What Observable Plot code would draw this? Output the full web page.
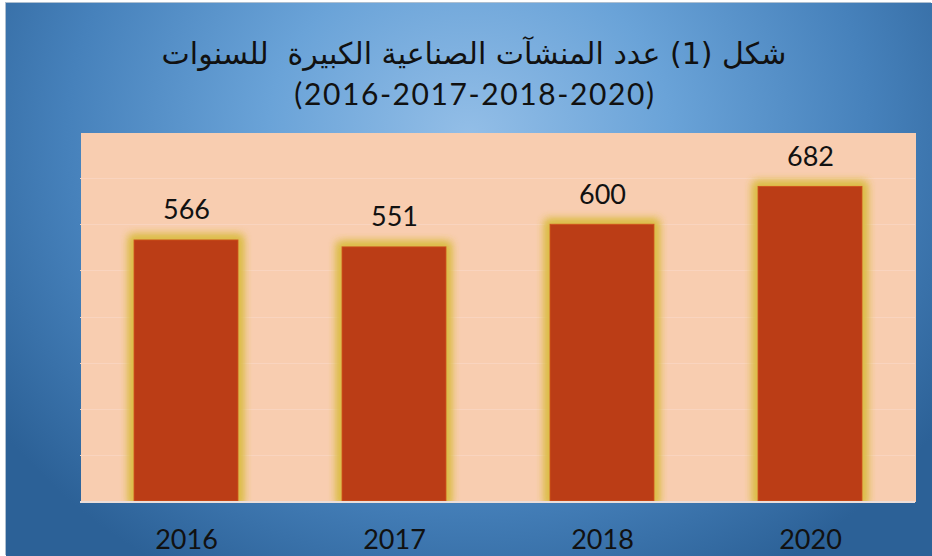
<!DOCTYPE html>
<html><head><meta charset="utf-8">
<script src="https://cdn.jsdelivr.net/npm/d3@7"></script>
<script src="https://cdn.jsdelivr.net/npm/@observablehq/plot@0.6"></script>
<style>
html,body{margin:0;padding:0;background:#fff;width:932px;height:556px;overflow:hidden;}
#fig{position:absolute;left:6px;top:3px;width:926px;height:553px;
 background: radial-gradient(ellipse 62% 92% at 50% 24%, #93bee7 0%, #6aa3d8 35%, #4681bb 70%, #2c6197 100%);
 box-shadow:-1px -1px 0 0 #aebfd0; overflow:hidden;}
#title{position:relative;height:117px;color:#111;text-align:center;}
#t1{position:absolute;left:10px;right:0;top:31px;font-family:"DejaVu Sans",sans-serif;font-size:30px;line-height:40px;direction:rtl;white-space:pre;}
#t2{position:absolute;left:12px;right:0;top:70px;font-family:Lato,"DejaVu Sans",sans-serif;font-size:30px;line-height:40px;letter-spacing:1.6px;white-space:pre;}
#chart svg{display:block;}
</style></head>
<body>
<div id="fig">
  <div id="title"><div id="t1"></div><div id="t2"></div></div>
  <div id="chart"></div>
</div>
<script>
const titleLine1 = "شكل (1) عدد المنشآت الصناعية الكبيرة  للسنوات";
const titleLine2 = "(2016-2017-2018-2020)";
const years = ["2016", "2017", "2018", "2020"];
const counts = [566, 551, 600, 682];
const gridTicks = [100, 200, 300, 400, 500, 600, 700];

document.getElementById("t1").textContent = titleLine1;
document.getElementById("t2").textContent = titleLine2;

const data = years.map((y, i) => ({year: y, value: counts[i]}));

const svg = Plot.plot({
  width: 926,
  height: 436,
  marginTop: 12,
  marginBottom: 55,
  marginLeft: 74,
  marginRight: 17,
  style: {background: "transparent", fontFamily: "Lato, 'DejaVu Sans', sans-serif", fontSize: "27px", color: "#111"},
  x: {domain: years, paddingInner: 0.5, paddingOuter: 0.25, label: null},
  y: {domain: [0, 800], axis: null},
  marks: [
    Plot.frame({fill: "#f8cdb0", stroke: "none", shapeRendering: "crispEdges"}),
    Plot.gridY(gridTicks, {stroke: "#f9d4bf", strokeOpacity: 1, strokeWidth: 1, shapeRendering: "crispEdges"}),
    Plot.barY(data, {x: "year", y: "value", fill: "#bb3e14", stroke: "#cf4f1e", strokeWidth: 1, clip: true}),
    Plot.ruleY([0], {stroke: "#ebdeda", strokeWidth: 2, shapeRendering: "crispEdges"}),
    Plot.text(data, {x: "year", y: "value", text: d => String(d.value), dy: -21, lineAnchor: "bottom", fontSize: 27, fill: "#111"}),
    Plot.axisX({tickSize: 0, tickPadding: 28, fontSize: 27, fill: "#111", label: null})
  ]
});

const s = d3.select(svg);
s.insert("defs", ":first-child").html(`
  <filter id="glow" x="-20%" y="-20%" width="140%" height="140%">
    <feMorphology in="SourceAlpha" operator="dilate" radius="4" result="d"/>
    <feGaussianBlur in="d" stdDeviation="4" result="b"/>
    <feFlood flood-color="#dcbd48" result="c"/>
    <feComposite in="c" in2="b" operator="in" result="g"/>
    <feMerge><feMergeNode in="g"/><feMergeNode in="g"/><feMergeNode in="SourceGraphic"/></feMerge>
  </filter>`);
s.selectAll("g[aria-label='bar']").attr("filter", "url(#glow)");
document.getElementById("chart").appendChild(svg);
</script>
</body></html>
